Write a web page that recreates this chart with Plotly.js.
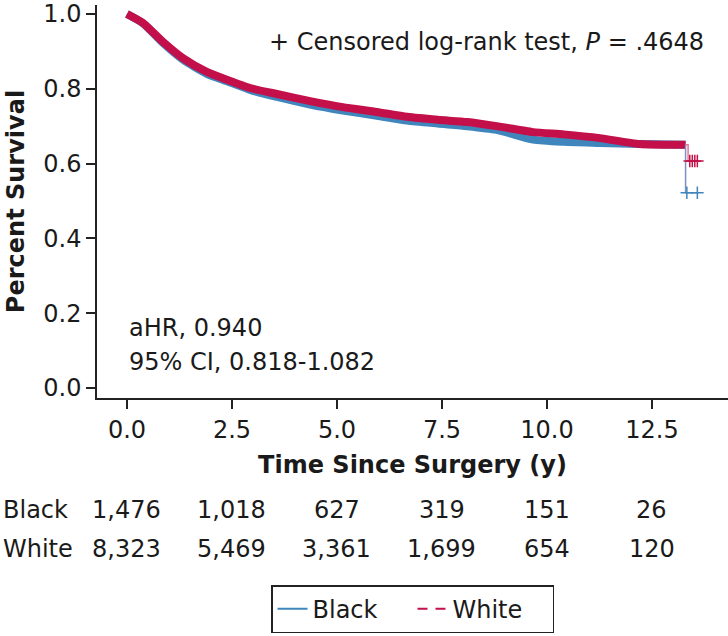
<!DOCTYPE html>
<html>
<head>
<meta charset="utf-8">
<script src="https://cdn.plot.ly/plotly-3.0.1.min.js"></script>
<style>
  html, body { margin: 0; padding: 0; background: #fff; }
  #gd { width: 728px; height: 636px; }
</style>
</head>
<body>
<div id="gd"></div>
<script>
// Kaplan-Meier curves
var timeYears = [0, 0.38, 0.86, 1.33, 1.9, 2.38, 2.93, 3.57, 4.36, 5.14, 5.95, 6.67, 7.4, 8.1, 8.8, 9.67, 10.4, 11.26, 12.2, 13.3];
var survBlack = [1.0, 0.975, 0.922, 0.878, 0.840, 0.820, 0.797, 0.778, 0.758, 0.742, 0.728, 0.715, 0.707, 0.700, 0.690, 0.664, 0.658, 0.655, 0.652, 0.650];
var survWhite = [1.0, 0.976, 0.925, 0.882, 0.845, 0.824, 0.802, 0.786, 0.767, 0.751, 0.738, 0.725, 0.717, 0.711, 0.700, 0.684, 0.678, 0.668, 0.652, 0.650];

// last step and censor marks after the final event
var tailTimeBlack = [13.3, 13.3, 13.6];
var tailSurvBlack = [0.650, 0.522, 0.522];
var censorTimeBlack = [13.33, 13.58];
var censorSurvBlack = [0.522, 0.522];
var tailTimeWhite = [13.3, 13.36, 13.36, 13.6];
var tailSurvWhite = [0.650, 0.650, 0.607, 0.607];
var censorTimeWhite = [13.40, 13.46, 13.52, 13.58];
var censorSurvWhite = [0.607, 0.607, 0.607, 0.607];

// numbers at risk
var riskTimes = [0, 2.5, 5, 7.5, 10, 12.5];
var riskBlack = ['1,476', '1,018', '627', '319', '151', '26'];
var riskWhite = ['8,323', '5,469', '3,361', '1,699', '654', '120'];

var xTicks = [0, 2.5, 5, 7.5, 10, 12.5];
var yTicks = [0, 0.2, 0.4, 0.6, 0.8, 1.0];

var blue = '#3f86bd';
var red = '#c4104a';
var font = 'DejaVu Sans, Verdana, sans-serif';

var traces = [
    { x: timeYears, y: survBlack, mode: 'lines', line: { color: blue, width: 8, shape: 'spline', smoothing: 0.6 }, showlegend: false, hoverinfo: 'skip' },
    { x: timeYears, y: survWhite, mode: 'lines', line: { color: red, width: 8, shape: 'spline', smoothing: 0.6 }, showlegend: false, hoverinfo: 'skip' },
    { x: tailTimeBlack, y: tailSurvBlack, mode: 'lines', line: { color: '#7f8fc4', width: 1.5 }, showlegend: false },
    { x: tailTimeWhite, y: tailSurvWhite, mode: 'lines', line: { color: '#e07a95', width: 1.5 }, showlegend: false },
    { x: censorTimeBlack, y: censorSurvBlack, mode: 'markers', marker: { symbol: 'cross-thin', size: 9, line: { color: blue, width: 1.5 } }, showlegend: false },
    { x: censorTimeWhite, y: censorSurvWhite, mode: 'markers', marker: { symbol: 'cross-thin', size: 9, line: { color: red, width: 1.5 } }, showlegend: false },
    // legend entries
    { x: [null], y: [null], mode: 'lines', name: 'Black', line: { color: blue, width: 2 } },
    { x: [null], y: [null], mode: 'lines', name: 'White', line: { color: red, width: 2, dash: '10px,8px' } }
];

var annotations = [
    { xref: 'paper', yref: 'paper', x: 0.965, y: 0.906, xanchor: 'right', yanchor: 'middle',
      text: '+ Censored log-rank test, <i>P</i> = .4648', showarrow: false },
    { xref: 'paper', yref: 'paper', x: 0.047, y: 0.178, xanchor: 'left', yanchor: 'middle',
      text: 'aHR, 0.940', showarrow: false },
    { xref: 'paper', yref: 'paper', x: 0.047, y: 0.092, xanchor: 'left', yanchor: 'middle',
      text: '95% CI, 0.818-1.082', showarrow: false },
    { xref: 'paper', yref: 'paper', x: -0.152, y: -0.285, xanchor: 'left', yanchor: 'middle',
      text: 'Black', showarrow: false },
    { xref: 'paper', yref: 'paper', x: -0.152, y: -0.384, xanchor: 'left', yanchor: 'middle',
      text: 'White', showarrow: false }
];
riskTimes.forEach(function (t, i) {
    annotations.push({ xref: 'x', yref: 'paper', x: t, y: -0.285, xanchor: 'center', yanchor: 'middle',
        text: riskBlack[i], showarrow: false });
    annotations.push({ xref: 'x', yref: 'paper', x: t, y: -0.384, xanchor: 'center', yanchor: 'middle',
        text: riskWhite[i], showarrow: false });
});

var layout = {
    width: 728,
    height: 636,
    margin: { l: 97, r: 0, t: 5, b: 238 },
    paper_bgcolor: '#fff',
    plot_bgcolor: '#fff',
    font: { family: font, size: 24, color: '#1a1a1a' },
    xaxis: {
        range: [-0.714, 14.31],
        tickvals: xTicks,
        tickformat: '.1f',
        ticks: 'outside', ticklen: 9, tickwidth: 1.5, tickcolor: '#222',
        showline: true, linecolor: '#222', linewidth: 1.5,
        showgrid: false, zeroline: false,
        ticklabeloverflow: 'allow',
        title: { text: '<b>Time Since Surgery (y)</b>', standoff: 14, font: { size: 24 } }
    },
    yaxis: {
        range: [-0.027, 1.024],
        tickvals: yTicks,
        tickformat: '.1f',
        ticks: 'outside', ticklen: 9, tickwidth: 1.5, tickcolor: '#222',
        showline: true, linecolor: '#222', linewidth: 1.5,
        showgrid: false, zeroline: false,
        ticklabeloverflow: 'allow',
        title: { text: '<b>Percent Survival</b>', standoff: 12, font: { size: 24 } }
    },
    legend: {
        orientation: 'h',
        x: 0.5, xanchor: 'center',
        y: -0.476, yanchor: 'top',
        bordercolor: '#222', borderwidth: 1.5,
        bgcolor: '#fff',
        entrywidth: 95,
        font: { size: 24 }
    },
    annotations: annotations
};

Plotly.newPlot('gd', traces, layout, { displayModeBar: false });
</script>
</body>
</html>
